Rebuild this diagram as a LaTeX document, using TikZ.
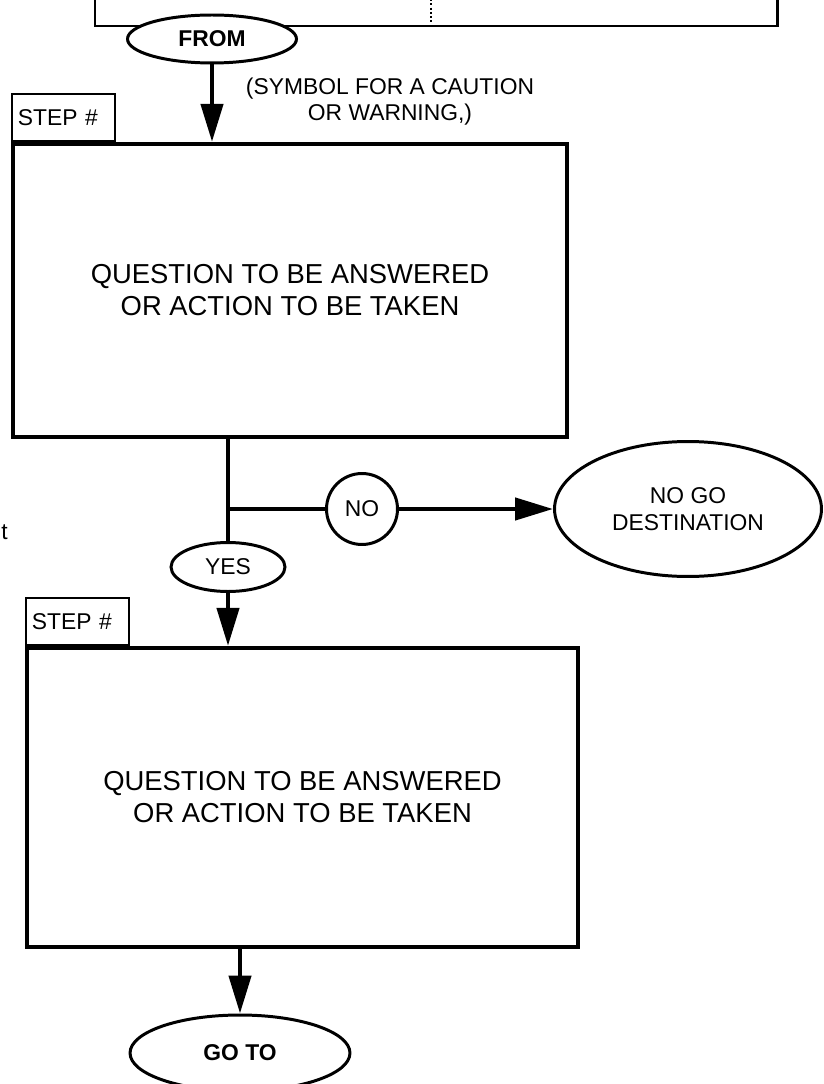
\documentclass[tikz,border=0pt]{standalone}
\usepackage{fontspec}
\setmainfont{Liberation Sans}
\usetikzlibrary{positioning,arrows.meta,shapes.geometric}

\tikzset{
  stepbox/.style={draw,line width=2.5pt,inner sep=0pt,align=center,font=\fontsize{15.6}{18.2}\selectfont},
  steptab/.style={draw,line width=1.2pt,anchor=south west,inner xsep=0.12cm,inner ysep=0pt,
    minimum height=0.94cm,text width=1.82cm,align=left,font=\fontsize{13}{15}\selectfont},
  oval/.style={ellipse,draw,fill=white,line width=1.7pt,inner sep=0pt,align=center,font=\fontsize{13}{15.4}\selectfont},
  link/.style={line width=2.5pt},
  flow/.style={link,->},
}

\begin{document}
\begin{tikzpicture}[x=0.02cm,y=-0.02cm,>={Triangle[length=0.76cm,width=0.44cm]}]
  \useasboundingbox (0,0) rectangle (823,1084);
  % ---- frame above ----
  \draw[line width=1.7pt] (95,-10) |- (777,26) -- (777,-10);
  \draw[line width=1.1pt,dash pattern=on 1.1pt off 1.3pt] (431,-5) -- (431,24);
  \node[oval,minimum width=3.38cm,minimum height=0.96cm,font=\fontsize{13}{15}\selectfont\bfseries] (from) at (212,39) {FROM};
  \node[align=center,font=\fontsize{13}{14.8}\selectfont] (note) at (390,102) {(SYMBOL FOR A CAUTION\\OR WARNING,)};
  % ---- first step ----
  \node[stepbox,minimum width=11.08cm,minimum height=5.86cm] (box1) at (290,290.5)
    {QUESTION TO BE ANSWERED\\OR ACTION TO BE TAKEN};
  \node[steptab] (tab1) at (box1.north west) {STEP \#};
  \draw[flow] (from.south) -- (from.south |- box1.north);
  % ---- branch ----
  \node[oval,minimum size=1.42cm] (no) at (362,509) {NO};
  \node[oval,minimum width=5.34cm,minimum height=2.7cm] (nogo) at (688,509) {NO GO\\DESTINATION};
  \node[oval,minimum width=2.28cm,minimum height=0.98cm] (yes) at (228,567) {YES};
  \node[anchor=east,inner sep=0pt,font=\fontsize{13}{15}\selectfont] (cut) at (8,532) {t};
  \coordinate (split) at (yes |- no);
  \draw[link] (yes |- box1.south) -- (yes.north);
  \draw[link] (split) -- (no.west);
  \draw[flow] (no) -- (nogo);
  % ---- second step ----
  \node[stepbox,minimum width=11.02cm,minimum height=5.98cm] (box2) at (302.5,797.5)
    {QUESTION TO BE ANSWERED\\OR ACTION TO BE TAKEN};
  \node[steptab] (tab2) at (box2.north west) {STEP \#};
  \draw[flow] (yes) -- (yes |- box2.north);
  \node[oval,minimum width=4.4cm,minimum height=1.52cm,font=\fontsize{13}{15}\selectfont\bfseries] (goto) at (240,1053) {GO TO};
  \draw[flow] (goto |- box2.south) -- (goto);
\end{tikzpicture}
\end{document}
